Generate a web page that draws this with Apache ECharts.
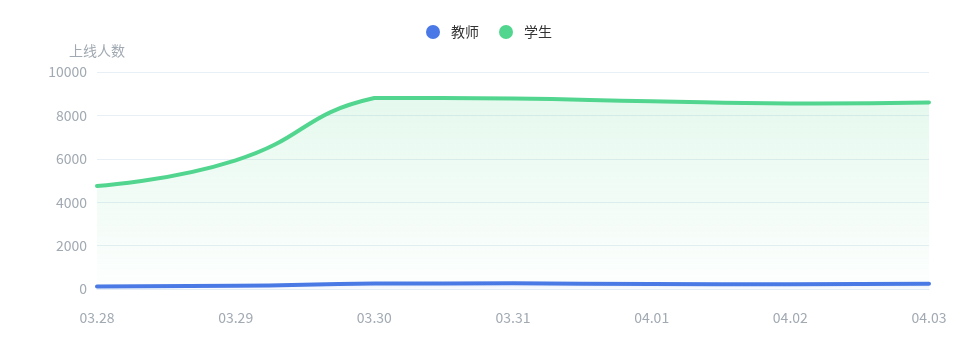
<!DOCTYPE html>
<html><head><meta charset="utf-8">
<script src="https://cdn.jsdelivr.net/npm/echarts@6/dist/echarts.min.js"></script>
<style>html,body{margin:0;padding:0;background:#fff}#c{width:978px;height:360px}</style>
</head><body><div id="c"></div>
<script>
const categories = ['03.28','03.29','03.30','03.31','04.01','04.02','04.03'];
const teacher = [120, 150, 250, 260, 230, 220, 240];
const student = [4750, 5930, 8800, 8780, 8650, 8550, 8600];
const yTicks = [0, 2000, 4000, 6000, 8000, 10000];

const chart = echarts.init(document.getElementById('c'));
const font = '"Noto Sans CJK SC", "Noto Sans", sans-serif';

// Bezier smoothing with bounding-box constraint (classic ECharts line smoothing)
function smoothPath(pts, smooth) {
  let minX = Infinity, minY = Infinity, maxX = -Infinity, maxY = -Infinity;
  pts.forEach(p => { minX = Math.min(minX, p[0]); maxX = Math.max(maxX, p[0]); minY = Math.min(minY, p[1]); maxY = Math.max(maxY, p[1]); });
  const clamp = c => [Math.min(Math.max(c[0], minX), maxX), Math.min(Math.max(c[1], minY), maxY)];
  const dist = (a, b) => Math.hypot(a[0] - b[0], a[1] - b[1]);
  let d = 'M' + pts[0][0] + ',' + pts[0][1];
  let cp0 = pts[0].slice();
  for (let i = 1; i < pts.length; i++) {
    const p = pts[i], prev = pts[i - 1], next = pts[i + 1];
    let cp1, v, ratio;
    if (!next) { cp1 = p.slice(); }
    else {
      v = [next[0] - prev[0], next[1] - prev[1]];
      const lp = dist(p, prev), ln = dist(p, next);
      ratio = ln / (ln + lp);
      cp1 = [p[0] - v[0] * smooth * (1 - ratio), p[1] - v[1] * smooth * (1 - ratio)];
    }
    const c0 = clamp(cp0), c1 = clamp(cp1);
    d += ' C' + c0[0] + ',' + c0[1] + ' ' + c1[0] + ',' + c1[1] + ' ' + p[0] + ',' + p[1];
    if (next) cp0 = [p[0] + v[0] * smooth * ratio, p[1] + v[1] * smooth * ratio];
  }
  return d;
}

function makeSeries(name, values, color, areaTop, areaBottom) {
  return {
    name: name, type: 'custom', coordinateSystem: 'cartesian2d',
    data: values.map((v, i) => [i, v]),
    encode: { x: 0, y: 1 },
    itemStyle: { color: color },
    renderItem: function (params, api) {
      if (params.dataIndex !== 0) return null;
      const pts = values.map((v, i) => api.coord([i, v]));
      const base = api.coord([0, 0])[1];
      const line = smoothPath(pts, 0.5);
      const area = line + ' L' + pts[pts.length - 1][0] + ',' + base + ' L' + pts[0][0] + ',' + base + ' Z';
      return {
        type: 'group',
        children: [
          { type: 'path', shape: { pathData: area }, style: {
              fill: new echarts.graphic.LinearGradient(0, 0, 0, 1, [{ offset: 0, color: areaTop }, { offset: 1, color: areaBottom }]),
              stroke: null } },
          { type: 'path', shape: { pathData: line }, style: { fill: null, stroke: color, lineWidth: 4, lineJoin: 'round', lineCap: 'round' } }
        ]
      };
    }
  };
}

chart.setOption({
  animation: false,
  textStyle: { fontFamily: font },
  legend: {
    top: 20, left: 'center', icon: 'circle', itemWidth: 14, itemHeight: 14, itemGap: 20,
    textStyle: { color: '#333', fontSize: 14, fontFamily: font, padding: [0, 0, 0, 6] },
    data: ['教师', '学生']
  },
  grid: { left: 97, right: 49, top: 72, bottom: 71 },
  xAxis: {
    type: 'category', boundaryGap: false, data: categories,
    axisLine: { lineStyle: { color: '#e3ebf5' } },
    axisTick: { show: false },
    axisLabel: { color: '#a1a9b2', fontSize: 14, margin: 22, fontFamily: font }
  },
  yAxis: {
    type: 'value', min: yTicks[0], max: yTicks[yTicks.length - 1], interval: yTicks[1] - yTicks[0],
    name: '上线人数', nameGap: 14,
    nameTextStyle: { color: '#a1a9b2', fontSize: 14, align: 'right', padding: [0, -28, 0, 0] },
    axisLine: { show: false }, axisTick: { show: false },
    axisLabel: { color: '#a1a9b2', fontSize: 14, margin: 10, fontFamily: font, formatter: v => String(v) },
    splitLine: { lineStyle: { color: '#e8eff5' } }
  },
  series: [
    makeSeries('教师', teacher, '#4a78e6', 'rgba(74,120,230,0.12)', 'rgba(74,120,230,0.02)'),
    makeSeries('学生', student, '#52d68f', 'rgba(82,214,143,0.15)', 'rgba(82,214,143,0.01)')
  ]
});
</script></body></html>
